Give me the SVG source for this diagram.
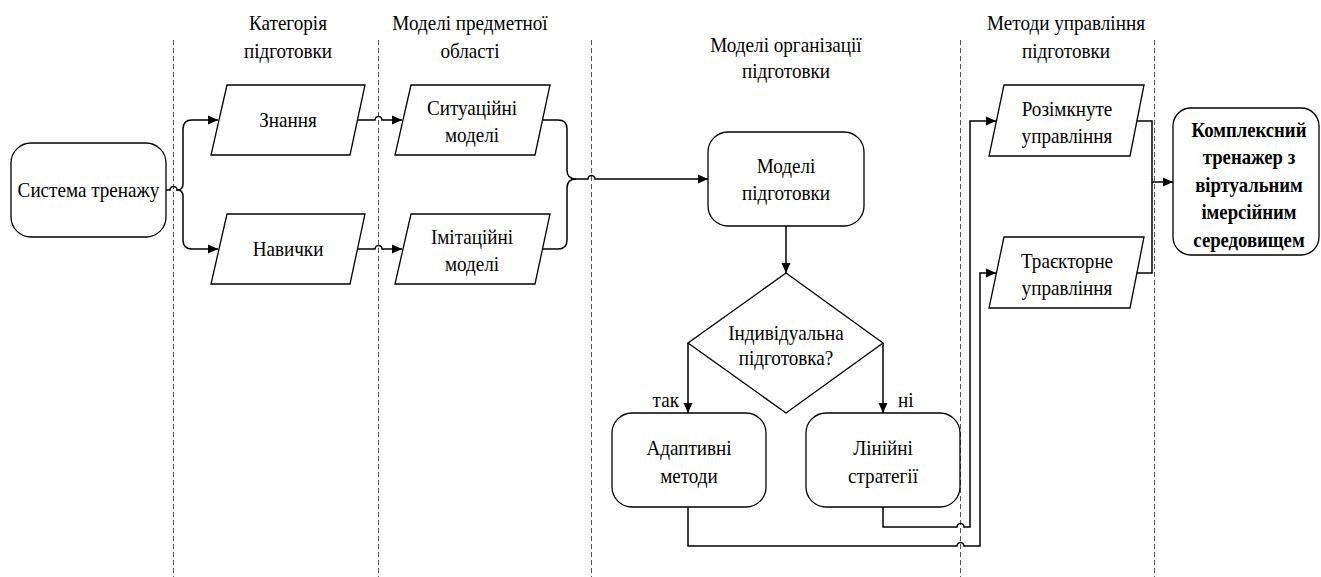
<svg xmlns="http://www.w3.org/2000/svg" width="1321" height="577" viewBox="0 0 1321 577">
<style>
  .bg{fill:#fff}
  .shape{fill:#fff;stroke:#000;stroke-width:1.3}
  .conn{fill:none;stroke:#000;stroke-width:1.5}
  .lane{fill:none;stroke:#555;stroke-width:1;stroke-dasharray:5 3}
  text{font-size:22px;fill:#000;text-anchor:middle}
  .b{font-weight:bold;font-size:21.5px}
  .l{text-anchor:start}
  .r{text-anchor:end}
</style>
<defs>
  <marker id="ah" markerUnits="userSpaceOnUse" markerWidth="10" markerHeight="10" refX="10" refY="5" orient="auto">
    <path d="M0,0.5 L10,5 L0,9.5 z" fill="#000"/>
  </marker>
</defs>
<rect class="bg" x="0" y="0" width="1321" height="577"/>

<g id="lanes">
  <line class="lane" x1="173.5" y1="40" x2="173.5" y2="577"/>
  <line class="lane" x1="378.5" y1="40" x2="378.5" y2="577"/>
  <line class="lane" x1="591.5" y1="40" x2="591.5" y2="577"/>
  <line class="lane" x1="960.5" y1="40" x2="960.5" y2="577"/>
  <line class="lane" x1="1154.5" y1="40" x2="1154.5" y2="577"/>
</g>

<g id="headers">
  <text font-family="Liberation Serif" transform="translate(288 30) scale(.87 1)">Категорія</text>
  <text font-family="Liberation Serif" transform="translate(288 58) scale(.87 1)">підготовки</text>
  <text font-family="Liberation Serif" transform="translate(470 30) scale(.87 1)">Моделі предметної</text>
  <text font-family="Liberation Serif" transform="translate(470 58) scale(.87 1)">області</text>
  <text font-family="Liberation Serif" transform="translate(786 52) scale(.87 1)">Моделі організації</text>
  <text font-family="Liberation Serif" transform="translate(786 78) scale(.87 1)">підготовки</text>
  <text font-family="Liberation Serif" transform="translate(1066 30) scale(.87 1)">Методи управління</text>
  <text font-family="Liberation Serif" transform="translate(1066 58) scale(.87 1)">підготовки</text>
</g>

<g id="connectors">
  <path class="conn" d="M166,190 H170 A3.5,3.5 0 0 1 177,190 Q183,190 183,184 V129 Q183,120 192,120 H218" marker-end="url(#ah)"/>
  <path class="conn" d="M177,190 Q183,190 183,196 V240 Q183,249 192,249 H218" marker-end="url(#ah)"/>
  <path class="conn" d="M358,120 H375 A3.5,3.5 0 0 1 382,120 H402" marker-end="url(#ah)"/>
  <path class="conn" d="M358,249 H375 A3.5,3.5 0 0 1 382,249 H402" marker-end="url(#ah)"/>
  <path class="conn" d="M543,120 H558 Q567,120 567,129 V170 Q567,179 576,179 H588 A3.5,3.5 0 0 1 595,179 H708" marker-end="url(#ah)"/>
  <path class="conn" d="M543,249 H558 Q567,249 567,240 V188 Q567,179 576,179"/>
  <path class="conn" d="M786,226 V273" marker-end="url(#ah)"/>
  <path class="conn" d="M688,343 V413" marker-end="url(#ah)"/>
  <path class="conn" d="M883,343 V413" marker-end="url(#ah)"/>
  <path class="conn" d="M883,507 V527 H957 A3.5,3.5 0 0 1 964,527 H970 V121 H996" marker-end="url(#ah)"/>
  <path class="conn" d="M688,507 V546 H957 A3.5,3.5 0 0 1 964,546 H980 V273 H996" marker-end="url(#ah)"/>
  <path class="conn" d="M1137,121 H1152 V182 H1173" marker-end="url(#ah)"/>
  <path class="conn" d="M1137,273 H1152 V182"/>
  <text font-family="Liberation Serif" class="r" transform="translate(679 407) scale(.87 1)">так</text>
  <text font-family="Liberation Serif" class="l" transform="translate(898 407) scale(.87 1)">ні</text>
</g>

<g id="sistema">
  <rect class="shape" x="11" y="143" width="155" height="94" rx="20"/>
  <text font-family="Liberation Serif" transform="translate(88.5 197) scale(.87 1)">Система тренажу</text>
</g>
<g id="znannia">
  <polygon class="shape" points="227,85 365,85 350,155 211,155"/>
  <text font-family="Liberation Serif" transform="translate(288 127) scale(.87 1)">Знання</text>
</g>
<g id="navychky">
  <polygon class="shape" points="227,214 365,214 350,284 211,284"/>
  <text font-family="Liberation Serif" transform="translate(288 256) scale(.87 1)">Навички</text>
</g>
<g id="sytuatsiini">
  <polygon class="shape" points="411,85 550,85 535,155 395,155"/>
  <text font-family="Liberation Serif" transform="translate(472 115) scale(.87 1)">Ситуаційні</text>
  <text font-family="Liberation Serif" transform="translate(472 142) scale(.87 1)">моделі</text>
</g>
<g id="imitatsiini">
  <polygon class="shape" points="411,214 550,214 535,284 395,284"/>
  <text font-family="Liberation Serif" transform="translate(472 244) scale(.87 1)">Імітаційні</text>
  <text font-family="Liberation Serif" transform="translate(472 271) scale(.87 1)">моделі</text>
</g>
<g id="modeli-pidgotovky">
  <rect class="shape" x="708" y="132" width="156" height="94" rx="20"/>
  <text font-family="Liberation Serif" transform="translate(786 173) scale(.87 1)">Моделі</text>
  <text font-family="Liberation Serif" transform="translate(786 200) scale(.87 1)">підготовки</text>
</g>
<g id="rishennia">
  <polygon class="shape" points="786,273 883,343 786,413 688,343"/>
  <text font-family="Liberation Serif" transform="translate(786 340) scale(.87 1)">Індивідуальна</text>
  <text font-family="Liberation Serif" transform="translate(786 365) scale(.87 1)">підготовка?</text>
</g>
<g id="adaptyvni">
  <rect class="shape" x="612" y="413" width="154" height="94" rx="20"/>
  <text font-family="Liberation Serif" transform="translate(689 455) scale(.87 1)">Адаптивні</text>
  <text font-family="Liberation Serif" transform="translate(689 483) scale(.87 1)">методи</text>
</g>
<g id="liniini">
  <rect class="shape" x="806" y="413" width="154" height="94" rx="20"/>
  <text font-family="Liberation Serif" transform="translate(883 455) scale(.87 1)">Лінійні</text>
  <text font-family="Liberation Serif" transform="translate(883 483) scale(.87 1)">стратегії</text>
</g>
<g id="rozimknute">
  <polygon class="shape" points="1004,85 1144,85 1130,156 989,156"/>
  <text font-family="Liberation Serif" transform="translate(1067 115.5) scale(.87 1)">Розімкнуте</text>
  <text font-family="Liberation Serif" transform="translate(1067 142.5) scale(.87 1)">управління</text>
</g>
<g id="traiektorne">
  <polygon class="shape" points="1004,237 1144,237 1130,308 989,308"/>
  <text font-family="Liberation Serif" transform="translate(1067 267.5) scale(.87 1)">Траєкторне</text>
  <text font-family="Liberation Serif" transform="translate(1067 294.5) scale(.87 1)">управління</text>
</g>
<g id="kompleksnyi">
  <rect class="shape" x="1173" y="108" width="146" height="147" rx="18"/>
  <text font-family="Liberation Serif" class="b" transform="translate(1249 136.5) scale(.87 1)">Комплексний</text>
  <text font-family="Liberation Serif" class="b" transform="translate(1249 164) scale(.87 1)">тренажер з</text>
  <text font-family="Liberation Serif" class="b" transform="translate(1249 191.5) scale(.87 1)">віртуальним</text>
  <text font-family="Liberation Serif" class="b" transform="translate(1249 219) scale(.87 1)">імерсійним</text>
  <text font-family="Liberation Serif" class="b" transform="translate(1249 246.5) scale(.87 1)">середовищем</text>
</g>
</svg>
